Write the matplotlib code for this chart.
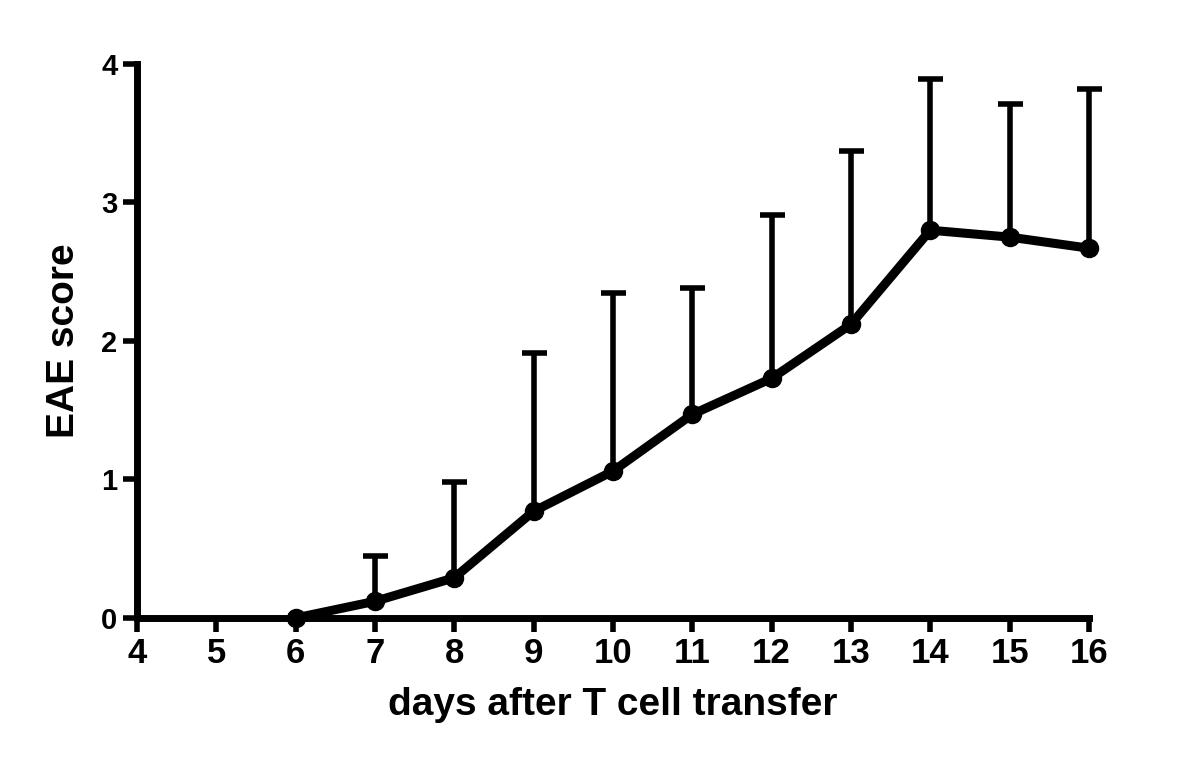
import numpy as np
import matplotlib
matplotlib.use("Agg")
import matplotlib.pyplot as plt

days = [6, 7, 8, 9, 10, 11, 12, 13, 14, 15, 16]
mean_score = [0.0, 0.12, 0.29, 0.77, 1.06, 1.47, 1.73, 2.12, 2.80, 2.75, 2.67]
upper_err = [0.0, 0.45, 0.98, 1.91, 2.35, 2.38, 2.91, 3.37, 3.89, 3.71, 3.82]
x_ticks = list(range(4, 17))
y_ticks = [0, 1, 2, 3, 4]

plt.rcParams['font.family'] = ['Liberation Sans', 'DejaVu Sans']
plt.rcParams['font.weight'] = 'bold'

fig = plt.figure(figsize=(12, 7.74), dpi=100)
ax = fig.add_axes([0.114, 0.2016, 0.7935, 0.7157])

x = np.array(days)
mean = np.array(mean_score)
top = np.array(upper_err)
has_err = top > mean

# upper-only SEM bars
ax.vlines(x[has_err], mean[has_err], top[has_err], color='black', lw=4,
          zorder=2, clip_on=False)
ax.plot(x[has_err], top[has_err], ls='none', marker='_', ms=18, mew=4,
        color='black', zorder=2, clip_on=False)
ax.plot(x, mean, color='black', lw=6.5, marker='o', ms=13, zorder=3,
        clip_on=False)

ax.set_xlim(4, 16)
ax.set_ylim(0, 4)
ax.set_xticks(x_ticks)
ax.set_yticks(y_ticks)
for s in ['top', 'right']:
    ax.spines[s].set_visible(False)
for s in ['left', 'bottom']:
    ax.spines[s].set_linewidth(5)
ax.tick_params(width=4, length=10, pad=4)
ax.set_yticklabels([str(v) for v in y_ticks], fontsize=21, fontweight='bold')
ax.set_xticklabels([str(v) for v in x_ticks], fontsize=25, fontweight='bold')
ax.set_ylabel("EAE score", fontsize=28, fontweight='bold', labelpad=14)
ax.set_xlabel("days after T cell transfer", fontsize=28, fontweight='bold',
              labelpad=12)

fig.savefig("out.png", dpi=100)
